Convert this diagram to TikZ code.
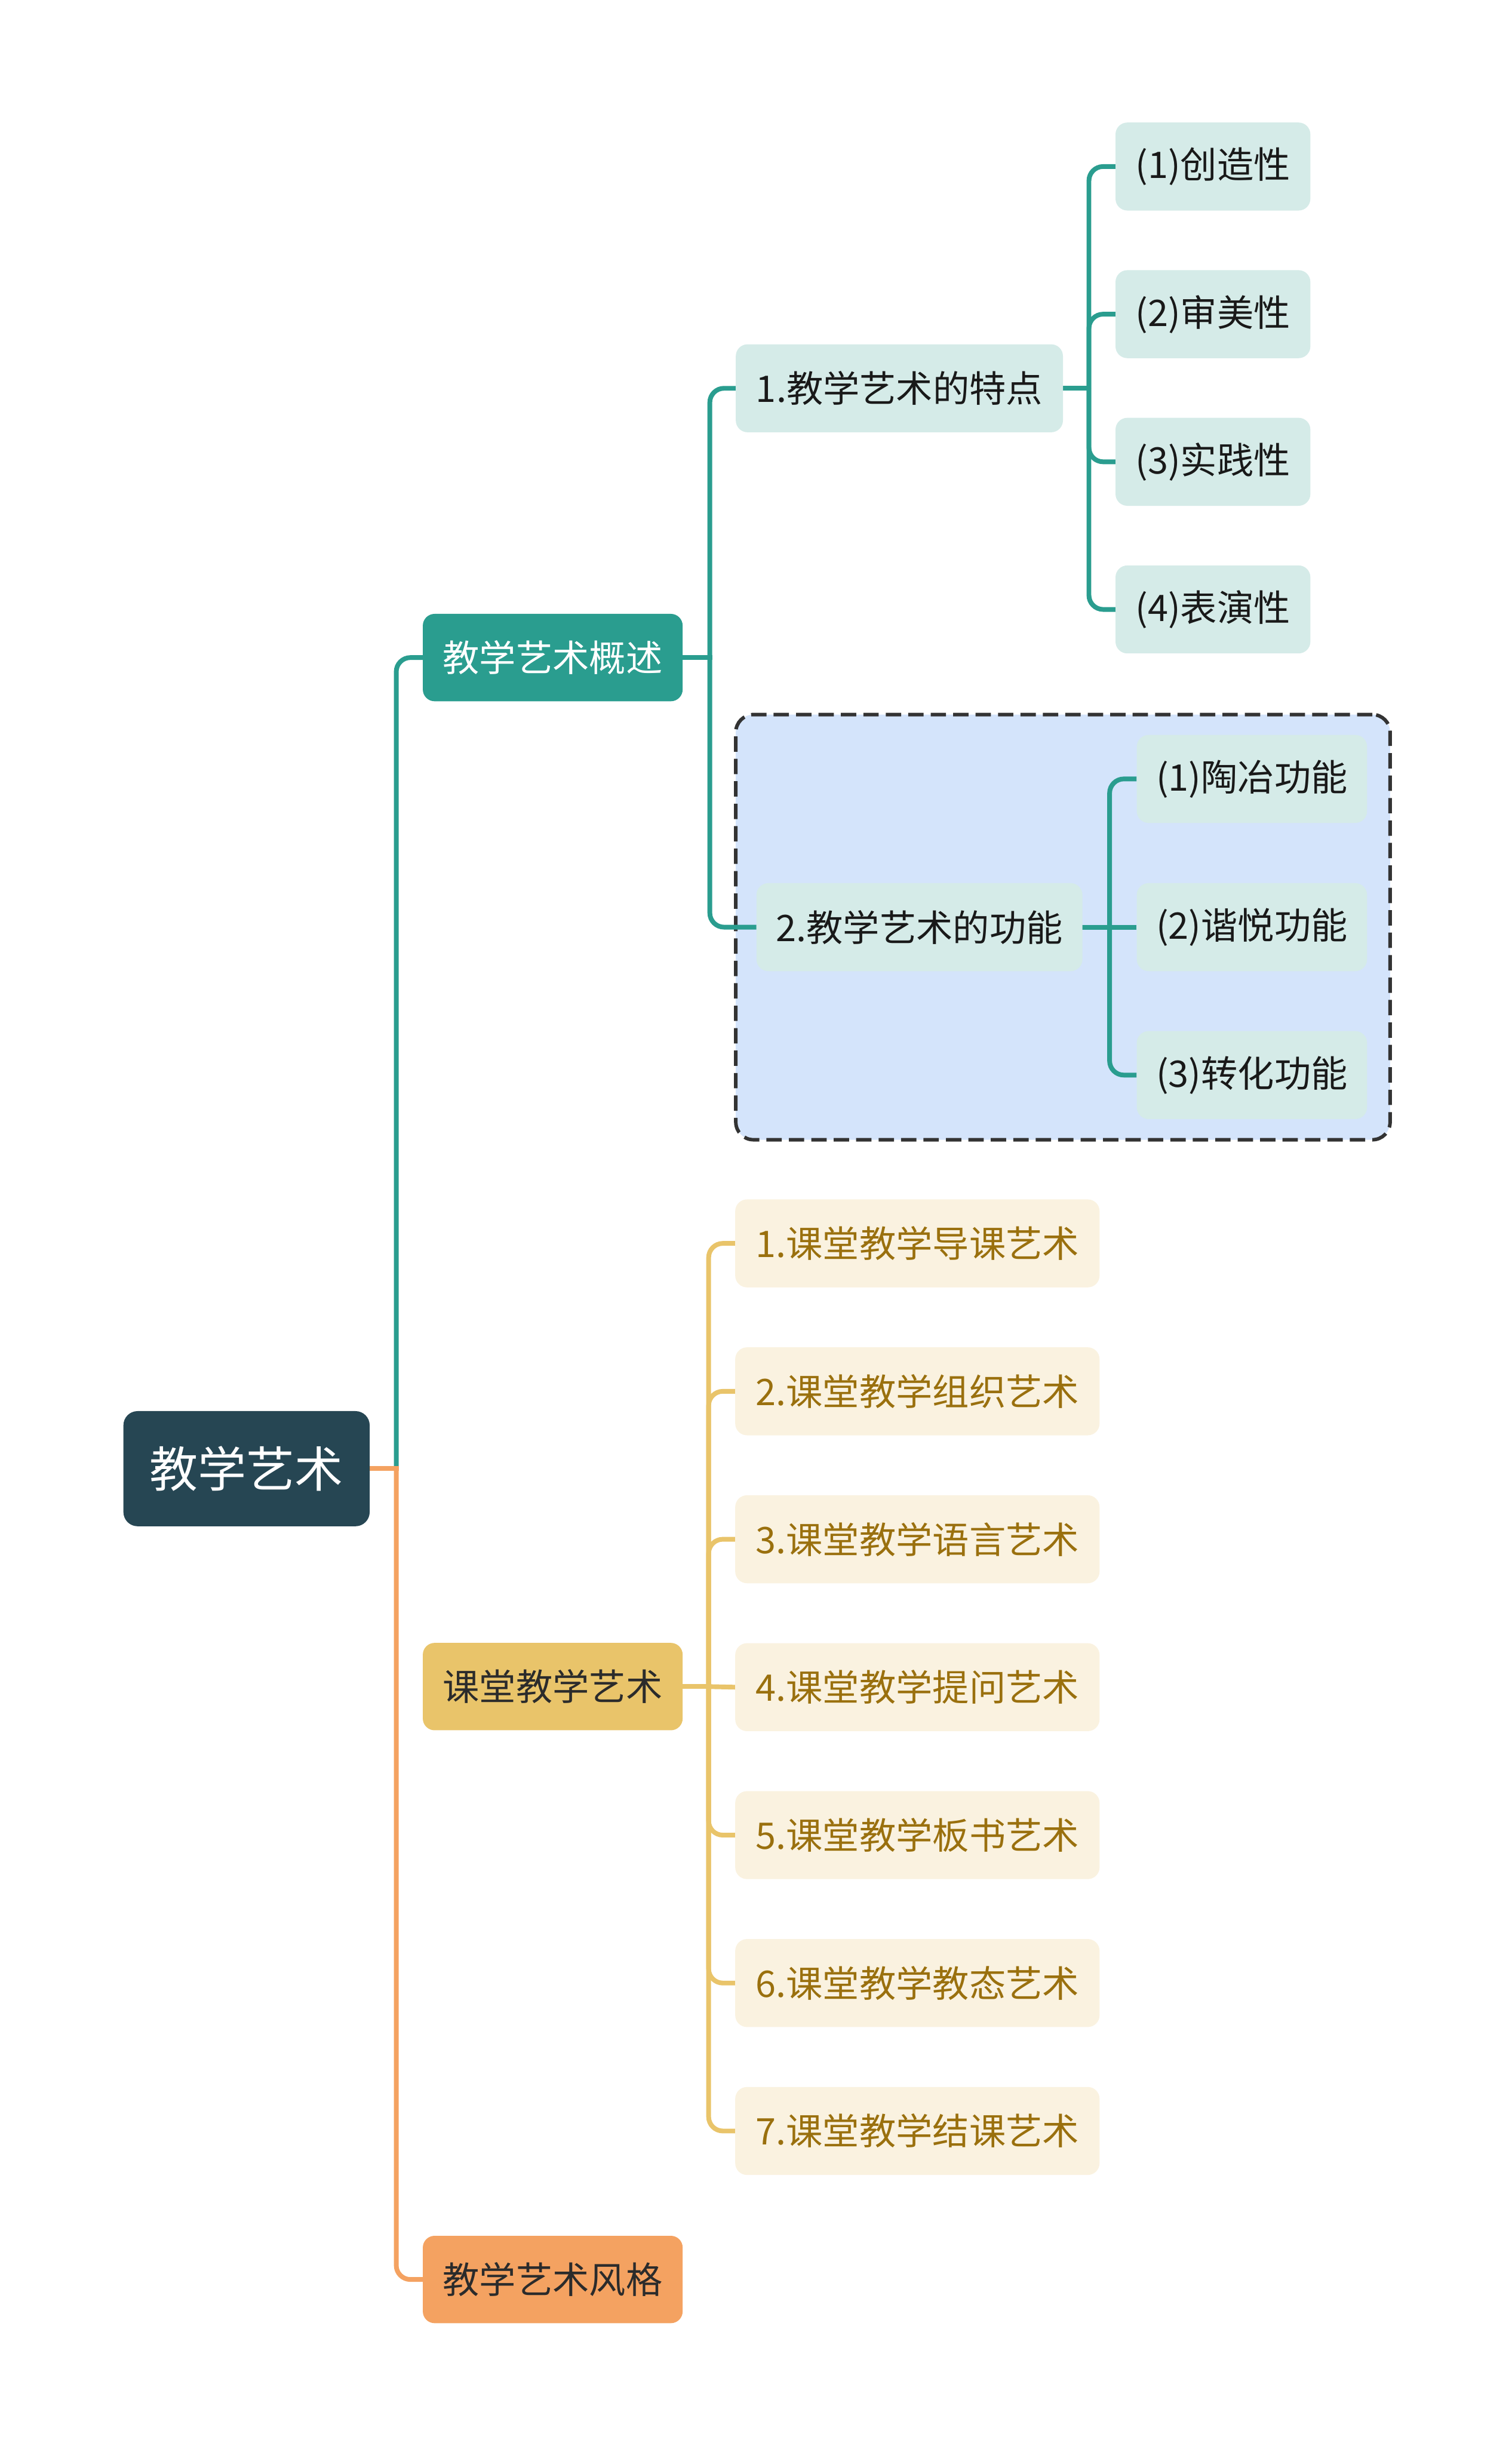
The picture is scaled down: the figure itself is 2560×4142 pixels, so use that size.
\documentclass[tikz,border=0pt]{standalone}
\usepackage{fontspec}
\newfontfamily\cjk{Noto Sans CJK SC}
\usetikzlibrary{backgrounds}
\definecolor{rootc}{HTML}{264653}
\definecolor{tealc}{HTML}{2A9D8F}
\definecolor{yelc}{HTML}{E9C46A}
\definecolor{orac}{HTML}{F4A261}
\definecolor{tealfill}{HTML}{D5EBE8}
\definecolor{yelfill}{HTML}{FAF2E0}
\definecolor{yeltext}{HTML}{9A700E}
\definecolor{bluefill}{HTML}{D4E4FB}
\definecolor{darktext}{HTML}{2B2B2B}
\begin{document}
\begin{tikzpicture}[x=1pt,y=-1pt,
  base/.style={rounded corners=20, inner sep=0pt, anchor=center, align=center,
    font=\cjk\fontsize{62}{74}\selectfont},
  rootbox/.style={base, fill=rootc, text=white, minimum width=417, minimum height=195,
    rounded corners=24, font=\cjk\fontsize{82}{96}\selectfont},
  lonet/.style={base, fill=tealc, text=white, minimum width=440, minimum height=148},
  loney/.style={base, fill=yelc, text=darktext, minimum width=440, minimum height=148},
  loneo/.style={base, fill=orac, text=darktext, minimum width=440, minimum height=148},
  tbox/.style={base, fill=tealfill, text=black!90, minimum height=149},
  ybox/.style={base, fill=yelfill, text=yeltext, minimum width=617, minimum height=149},
  tline/.style={draw=tealc, line width=8pt, rounded corners=24},
  yline/.style={draw=yelc, line width=8pt, rounded corners=24},
  oline/.style={draw=orac, line width=8pt, rounded corners=24},
  stub/.style={line cap=rect},
  groupbox/.style={draw=black!80, fill=bluefill, line width=6pt, dash pattern=on 26pt off 12pt, rounded corners=30}
]
\useasboundingbox (0,0) rectangle (2560,4142);

% nodes
\node[rootbox] (root) at (417.5,2487) {教学艺术};
\node[lonet] (a) at (936,1113.5) {教学艺术概述};
\node[loney] (b) at (936,2856) {课堂教学艺术};
\node[loneo] (c) at (936,3860) {教学艺术风格};

\node[tbox, minimum width=554] (a1) at (1523,657.5) {1.教学艺术的特点};
\node[tbox, minimum width=552] (a2) at (1557,1570) {2.教学艺术的功能};

\node[tbox, minimum width=330] (a11) at (2054,282) {(1)创造性};
\node[tbox, minimum width=330] (a12) at (2054,532) {(2)审美性};
\node[tbox, minimum width=330] (a13) at (2054,782) {(3)实践性};
\node[tbox, minimum width=330] (a14) at (2054,1032) {(4)表演性};

\node[tbox, minimum width=390] (a21) at (2120,1319) {(1)陶冶功能};
\node[tbox, minimum width=390] (a22) at (2120,1570) {(2)谐悦功能};
\node[tbox, minimum width=390] (a23) at (2120,1820.5) {(3)转化功能};

\node[ybox] (b1) at (1553.5,2105.5) {1.课堂教学导课艺术};
\node[ybox] (b2) at (1553.5,2356) {2.课堂教学组织艺术};
\node[ybox] (b3) at (1553.5,2606.5) {3.课堂教学语言艺术};
\node[ybox] (b4) at (1553.5,2857) {4.课堂教学提问艺术};
\node[ybox] (b5) at (1553.5,3107.5) {5.课堂教学板书艺术};
\node[ybox] (b6) at (1553.5,3358) {6.课堂教学教态艺术};
\node[ybox] (b7) at (1553.5,3608.5) {7.课堂教学结课艺术};

% junction coordinates
\coordinate (j0) at (671,2487);
\coordinate (ja) at (1202,1113.5);
\coordinate (ja1) at (1844,657.5);
\coordinate (ja2) at (1879,1570);
\coordinate (jb) at (1200,2856);

\begin{scope}[on background layer]
\node[groupbox, minimum width=1108, minimum height=720, inner sep=0pt] (grp) at (1800,1570) {};
\path[tline] (j0) |- (a.west);
\path[oline, stub] (root.east) -- (j0);
\path[oline] (j0) |- (c.west);
\path[tline, stub] (a.east) -- (ja);
\path[tline] (ja) |- (a1.west);
\path[tline] (ja) |- (a2.west);
\path[tline, stub] (a1.east) -- (ja1);
\path[tline] (ja1) |- (a11.west);
\path[tline] (ja1) |- (a12.west);
\path[tline] (ja1) |- (a13.west);
\path[tline] (ja1) |- (a14.west);
\path[tline, stub] (a2.east) -- (ja2);
\path[tline] (ja2) |- (a21.west);
\path[tline] (ja2) -- (a22.west);
\path[tline] (ja2) |- (a23.west);
\path[yline, stub] (b.east) -- (jb);
\path[yline] (jb) |- (b1.west);
\path[yline] (jb) |- (b2.west);
\path[yline] (jb) |- (b3.west);
\path[yline] (jb) -- (b4.west);
\path[yline] (jb) |- (b5.west);
\path[yline] (jb) |- (b6.west);
\path[yline] (jb) |- (b7.west);
\end{scope}
\end{tikzpicture}
\end{document}
